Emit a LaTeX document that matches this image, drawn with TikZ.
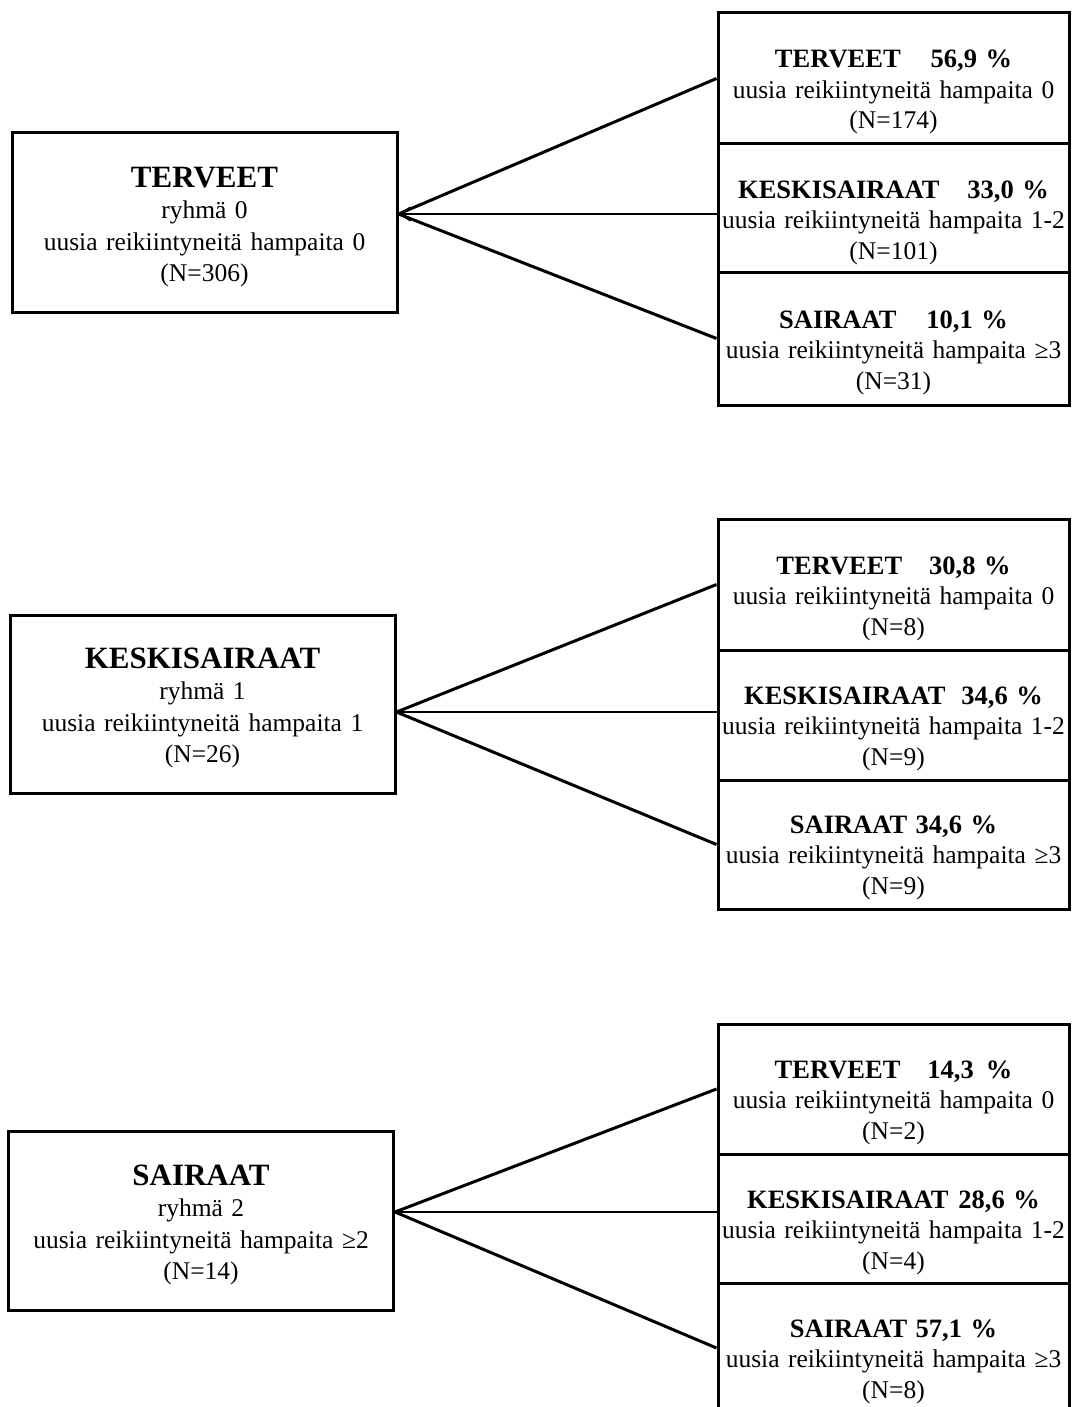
\documentclass[tikz,border=0pt]{standalone}
\usepackage{fontspec}
\setmainfont{Liberation Serif}
\usetikzlibrary{arrows.meta}
\newcommand{\ltl}[1]{{\fontsize{31}{31.5}\selectfont\bfseries #1}}
\newcommand{\rtl}[1]{{\fontsize{26.5}{30.5}\selectfont\bfseries #1}}
\tikzset{
  lbox/.style={draw, line width=3pt, minimum width=385pt, inner sep=0pt},
  rbox/.style={draw, line width=3pt, minimum width=351pt, inner sep=0pt},
  ltext/.style={anchor=base, align=center, text width=420pt, inner sep=0pt, font=\fontsize{25.5}{31.5}\selectfont},
  rtext/.style={anchor=base, align=center, text width=400pt, inner sep=0pt, font=\fontsize{25.5}{30.5}\selectfont},
  conn/.style={line width=3pt},
  midconn/.style={line width=2.4pt}
}
\begin{document}
\begin{tikzpicture}[x=1pt,y=-1pt]
\useasboundingbox (0,0) rectangle (1071,1407);
\clip (0,0) rectangle (1071,1407);

% ---------- group 1 ----------
\node[lbox, minimum height=179pt] (L1) at (204.5,222.5) {};
\node[ltext] (L1t) at (204.5,187) {\ltl{TERVEET}\\ ryhmä 0\\ uusia reikiintyneitä hampaita 0\\ (N=306)};
\node[rbox, minimum height=131pt] (r11) at (893.5,78.5) {};
\node[rbox, minimum height=128pt] (r12) at (893.5,208) {};
\node[rbox, minimum height=133pt] (r13) at (893.5,338.5) {};
\node[rtext] (r11t) at (893.5,68) {\rtl{TERVEET\hspace{30pt}56,9 \%}\\ uusia reikiintyneitä hampaita 0\\ (N=174)};
\node[rtext] (r12t) at (893.5,198) {\rtl{KESKISAIRAAT\hspace{28pt}33,0 \%}\\ uusia reikiintyneitä hampaita 1-2\\ (N=101)};
\node[rtext] (r13t) at (893.5,328) {\rtl{SAIRAAT\hspace{30pt}10,1 \%}\\ uusia reikiintyneitä hampaita ≥3\\ (N=31)};
\coordinate (j1) at (L1.east |- 0,214);
\draw[conn] (j1) -- (r11.west);
\draw[midconn, {Straight Barb[length=10pt,width=13pt]}-] (j1) -- (j1 -| r12.west);
\draw[conn] (j1) -- (r13.west);

% ---------- group 2 ----------
\node[lbox, minimum height=178pt] (L2) at (202.5,704) {};
\node[ltext] (L2t) at (202.5,668) {\ltl{KESKISAIRAAT}\\ ryhmä 1\\ uusia reikiintyneitä hampaita 1\\ (N=26)};
\node[rbox, minimum height=131pt] (r21) at (893.5,584.5) {};
\node[rbox, minimum height=130pt] (r22) at (893.5,715) {};
\node[rbox, minimum height=129pt] (r23) at (893.5,844.5) {};
\node[rtext] (r21t) at (893.5,574) {\rtl{TERVEET\hspace{27pt}30,8 \%}\\ uusia reikiintyneitä hampaita 0\\ (N=8)};
\node[rtext] (r22t) at (893.5,704) {\rtl{KESKISAIRAAT\hspace{16pt}34,6 \%}\\ uusia reikiintyneitä hampaita 1-2\\ (N=9)};
\node[rtext] (r23t) at (893.5,833) {\rtl{SAIRAAT 34,6 \%}\\ uusia reikiintyneitä hampaita ≥3\\ (N=9)};
\coordinate (j2) at (L2.east |- 0,712);
\draw[conn] (j2) -- (r21.west);
\draw[midconn] (j2) -- (j2 -| r22.west);
\draw[conn] (j2) -- (r23.west);

% ---------- group 3 ----------
\node[lbox, minimum height=179pt] (L3) at (201,1220.5) {};
\node[ltext] (L3t) at (201,1185) {\ltl{SAIRAAT}\\ ryhmä 2\\ uusia reikiintyneitä hampaita ≥2\\ (N=14)};
\node[rbox, minimum height=130pt] (r31) at (893.5,1089) {};
\node[rbox, minimum height=129pt] (r32) at (893.5,1218.5) {};
\node[rbox, minimum height=130pt] (r33) at (893.5,1348) {};
\node[rtext] (r31t) at (893.5,1078) {\rtl{TERVEET\hspace{27pt}14,3\hspace{12pt}\%}\\ uusia reikiintyneitä hampaita 0\\ (N=2)};
\node[rtext] (r32t) at (893.5,1208) {\rtl{KESKISAIRAAT\hspace{10pt}28,6 \%}\\ uusia reikiintyneitä hampaita 1-2\\ (N=4)};
\node[rtext] (r33t) at (893.5,1337) {\rtl{SAIRAAT 57,1 \%}\\ uusia reikiintyneitä hampaita ≥3\\ (N=8)};
\coordinate (j3) at (L3.east |- 0,1212);
\draw[conn] (j3) -- (r31.west);
\draw[midconn] (j3) -- (j3 -| r32.west);
\draw[conn] (j3) -- (r33.west);
\end{tikzpicture}
\end{document}
